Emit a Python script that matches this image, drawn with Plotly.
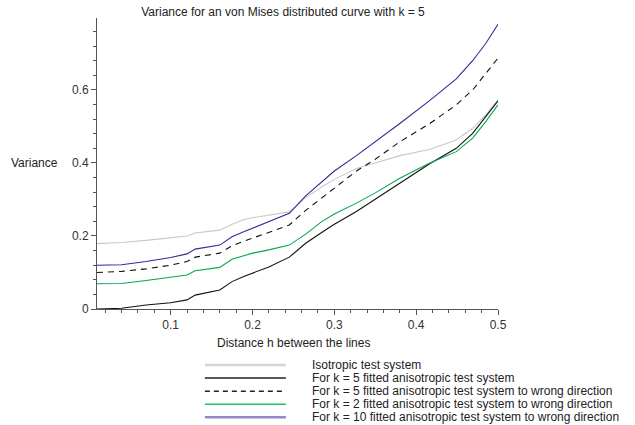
import plotly.graph_objects as go

# ---- data ----
x = [0.01, 0.04, 0.07, 0.10, 0.12, 0.13, 0.16, 0.175, 0.19, 0.20, 0.22, 0.245,
     0.265, 0.285, 0.30, 0.327, 0.35, 0.38, 0.416, 0.449, 0.469, 0.485, 0.50]

iso = [0.179, 0.182, 0.188, 0.195, 0.200, 0.208, 0.216, 0.232, 0.245, 0.250, 0.257, 0.266,
       0.305, 0.335, 0.355, 0.385, 0.400, 0.420, 0.437, 0.463, 0.495, 0.532, 0.573]
k5 = [0.000, 0.002, 0.011, 0.017, 0.025, 0.038, 0.052, 0.075, 0.090, 0.098, 0.115, 0.142,
      0.180, 0.210, 0.232, 0.267, 0.300, 0.344, 0.397, 0.440, 0.481, 0.527, 0.570]
k5_wrong = [0.100, 0.103, 0.110, 0.120, 0.130, 0.142, 0.153, 0.173, 0.186, 0.194, 0.208, 0.230,
            0.270, 0.305, 0.332, 0.378, 0.410, 0.458, 0.507, 0.559, 0.600, 0.646, 0.687]
k2_wrong = [0.069, 0.070, 0.078, 0.087, 0.093, 0.105, 0.114, 0.136, 0.147, 0.153, 0.162, 0.175,
            0.205, 0.240, 0.260, 0.290, 0.318, 0.358, 0.399, 0.431, 0.468, 0.513, 0.559]
k10_wrong = [0.120, 0.121, 0.130, 0.141, 0.151, 0.164, 0.175, 0.198, 0.212, 0.221, 0.238, 0.262,
             0.310, 0.350, 0.378, 0.420, 0.458, 0.508, 0.570, 0.630, 0.680, 0.727, 0.780]

names = ["Isotropic test system",
         "For k = 5 fitted anisotropic test system",
         "For k = 5 fitted anisotropic test system to wrong direction",
         "For k = 2 fitted anisotropic test system to wrong direction",
         "For k = 10 fitted anisotropic test system to wrong direction"]
series = [iso, k5, k5_wrong, k2_wrong, k10_wrong]
colors = ["#c8c8c8", "#111111", "#111111", "#00a850", "#2c2c9c"]
legend_colors = ["#d4d4d4", "#222222", "#222222", "#20c060", "#8c8cc8"]
legend_widths = [2.5, 1.5, 1.5, 1.5, 2.5]
dashes = ["solid", "solid", "6px,5px", "solid", "solid"]

x_ticks = [0.1, 0.2, 0.3, 0.4, 0.5]
y_ticks = [0, 0.2, 0.4, 0.6]

FONT = "Liberation Sans, Arial, sans-serif"
FS = 12

fig = go.Figure()
for ys, nm, c, d in zip(series, names, colors, dashes):
    fig.add_trace(go.Scatter(x=x, y=ys, mode="lines", name=nm,
                             line=dict(color=c, width=1.1, dash=d),
                             showlegend=False))

axis_common = dict(showgrid=False, zeroline=False, showline=True, linecolor="#555555",
                   linewidth=1, ticks="outside", ticklen=5, tickcolor="#555555",
                   tickfont=dict(size=FS, color="#333333", family=FONT))

fig.update_xaxes(range=[0.01, 0.5], tickvals=x_ticks, ticktext=[str(v) for v in x_ticks],
                 minor=dict(dtick=0.02, tick0=0, ticks="outside", ticklen=3,
                            tickcolor="#555555"),
                 **axis_common)
fig.update_yaxes(range=[0, 0.797], tickvals=y_ticks, ticktext=["0", "0.2", "0.4", "0.6"],
                 minor=dict(dtick=0.04, tick0=0, ticks="outside", ticklen=3,
                            tickcolor="#555555"),
                 **axis_common)

# custom legend below the plot
row0 = -0.1924
step = 0.0450
shapes = []
annotations = []
for i, nm in enumerate(names):
    yy = row0 - i * step
    shapes.append(dict(type="line", xref="paper", yref="paper", x0=0.269, x1=0.471,
                       y0=yy, y1=yy,
                       line=dict(color=legend_colors[i], width=legend_widths[i],
                                 dash=("5px,4px" if dashes[i] != "solid" else "solid"))))
    annotations.append(dict(xref="paper", yref="paper", x=0.531, y=yy, text=nm,
                            showarrow=False, xanchor="left", yanchor="middle",
                            font=dict(size=FS, color="#222222", family=FONT)))

annotations.append(dict(xref="paper", yref="y", x=-0.155, y=0.4, text="Variance",
                        showarrow=False, xanchor="center", yanchor="middle",
                        font=dict(size=FS, color="#222222", family=FONT)))
annotations.append(dict(xref="paper", yref="paper", x=0.49, y=-0.117,
                        text="Distance h between the lines",
                        showarrow=False, xanchor="center", yanchor="middle",
                        font=dict(size=FS, color="#222222", family=FONT)))

fig.update_layout(
    width=635, height=425,
    margin=dict(l=97, r=137, t=18, b=116),
    paper_bgcolor="white", plot_bgcolor="white",
    title=dict(text="Variance for an von Mises distributed curve with k = 5",
               x=283 / 635, xanchor="center", y=1 - 12 / 425, yanchor="middle",
               font=dict(size=FS, color="#222222", family=FONT)),
    shapes=shapes, annotations=annotations, showlegend=False,
)

fig.write_html("out.html")
